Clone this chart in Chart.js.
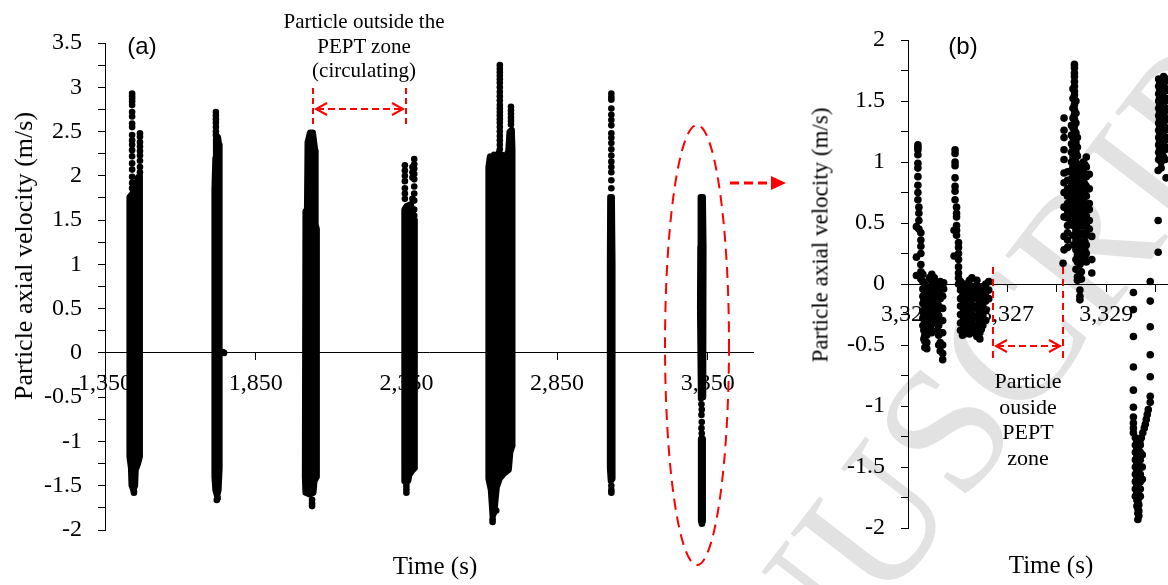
<!DOCTYPE html>
<html>
<head>
<meta charset="utf-8">
<title>Particle axial velocity</title>
<script src="https://cdn.jsdelivr.net/npm/chart.js"></script>
<style>
  html, body { margin: 0; padding: 0; background: #fff; }
  body { width: 1168px; height: 585px; overflow: hidden; position: relative; color: #000;
         font-family: "Liberation Serif", "Times New Roman", serif; }
  canvas { position: absolute; top: 0; z-index: 1; }
  #chartA { left: 0; }
  #chartB { left: 800px; }
  .txt { position: absolute; white-space: nowrap; line-height: 1; z-index: 2;
         transform: translate(-50%, -50%); }
  .vert { transform: translate(-50%, -50%) rotate(-90deg); }
  .tag { font-family: "Liberation Sans", Arial, sans-serif; font-size: 24px; }
  .note { font-size: 21px; text-align: center; line-height: 24.5px; }
  #mark { position: absolute; left: 578px; top: 815px; z-index: 0; line-height: 1;
          font-size: 180px; color: #e2e2e2; white-space: nowrap;
          transform-origin: 0 50%; transform: rotate(-52.4deg); }
  svg { position: absolute; left: 0; top: 0; z-index: 3; }
</style>
</head>
<body>
<div id="mark">MANUSCRIPT</div>
<canvas id="chartA" width="790" height="585"></canvas>
<canvas id="chartB" width="500" height="585"></canvas>

<div class="txt vert" style="left:24px;top:256px;font-size:26px">Particle axial velocity (m/s)</div>
<div class="txt" style="left:435px;top:565px;font-size:25px">Time (s)</div>
<div class="txt tag" style="left:142px;top:46px">(a)</div>
<div class="txt note" style="left:364px;top:46px">Particle outside the<br>PEPT zone<br>(circulating)</div>

<div class="txt vert" style="left:820px;top:235px;font-size:23px">Particle axial velocity (m/s)</div>
<div class="txt" style="left:1051px;top:564px;font-size:25px">Time (s)</div>
<div class="txt tag" style="left:963px;top:46px">(b)</div>
<div class="txt note" style="left:1028px;top:419px;font-size:22px;line-height:25.5px">Particle<br>ouside<br>PEPT<br>zone</div>

<svg width="1168" height="585">
  <g stroke="#ff0000" stroke-width="2" fill="none">
    <!-- circulation gap in (a) -->
    <line x1="313" y1="88" x2="313" y2="128" stroke-dasharray="6 4"/>
    <line x1="406" y1="88" x2="406" y2="128" stroke-dasharray="6 4"/>
    <line x1="317" y1="109" x2="402" y2="109" stroke-dasharray="7 4"/>
    <polyline points="327,103 316,109 327,115"/>
    <polyline points="392,103 403,109 392,115"/>
    <!-- last burst picked out for (b) -->
    <ellipse cx="697" cy="345" rx="32" ry="220" stroke-dasharray="11 7"/>
    <line x1="730" y1="183" x2="772" y2="183" stroke-width="3" stroke-dasharray="9 5"/>
    <!-- gap in (b) -->
    <line x1="993" y1="267" x2="993" y2="362" stroke-dasharray="7 5"/>
    <line x1="1063" y1="267" x2="1063" y2="362" stroke-dasharray="7 5"/>
    <line x1="997" y1="346" x2="1059" y2="346" stroke-dasharray="7 4"/>
    <polyline points="1007,340 996,346 1007,352"/>
    <polyline points="1049,340 1060,346 1049,352"/>
  </g>
  <polygon points="771,176 786,183 771,190" fill="#ff0000"/>
</svg>

<script>
// ---- panel (a): full run ----
const timeTicksA = [1350, 1850, 2350, 2850, 3350];
const velocityLabelsA = [-2, -1.5, -1, -0.5, 0, 0.5, 1, 1.5, 2, 2.5, 3, 3.5];

// solid part of each burst, outline as [time, velocity]
const burst1Band = [[1431, -1.17], [1431, 1.76], [1440, 1.80], [1452, 1.82], [1458, 1.98], [1464, 2.00], [1466, 1.90],
  [1466, -1.17], [1460, -1.25], [1452, -1.32], [1450, -1.50], [1444, -1.55], [1438, -1.50], [1436, -1.30]];
const burst2Band = [[1713, -1.40], [1713, 1.85], [1716, 2.20], [1718, 2.42], [1725, 2.44], [1729, 2.35], [1729, 1.30],
  [1731, 1.00], [1731, -1.30], [1727, -1.55], [1722, -1.62], [1716, -1.55]];
const burst3Band = [[2013, -1.40], [2015, 1.60], [2020, 1.62], [2022, 2.38], [2030, 2.49], [2040, 2.49], [2046, 2.33],
  [2048, 2.28], [2049, 1.45], [2053, 1.40], [2053, -1.40], [2045, -1.45], [2042, -1.58], [2030, -1.60], [2015, -1.58]];
const burst4Band = [[2343, -1.30], [2343, 1.62], [2350, 1.66], [2365, 1.68], [2376, 1.50], [2378, 1.45], [2378, -1.30],
  [2370, -1.33], [2360, -1.38], [2356, -1.45], [2345, -1.45]];
const burst5Band = [[2622, -1.42], [2622, 2.10], [2627, 2.22], [2633, 2.16], [2640, 2.24], [2648, 2.19], [2655, 2.26],
  [2662, 2.20], [2668, 2.24], [2675, 2.15], [2680, 2.22], [2688, 2.28], [2692, 2.50], [2700, 2.52], [2702, 2.30],
  [2702, -1.05], [2695, -1.12], [2690, -1.32], [2675, -1.36], [2660, -1.42], [2650, -1.52], [2642, -1.80],
  [2636, -1.85], [2630, -1.55]];
const burst6Band = [[3025, -1.30], [3025, 1.00], [3026, 1.76], [3032, 1.76], [3034, 1.00], [3034, -1.42], [3028, -1.45]];
const burst7Band = [[3324, 0.50], [3325, 1.20], [3326, 1.76], [3334, 1.76], [3336, 1.20], [3335, -0.50], [3327, -0.52]];
const burst7LowBand = [[3327, -0.97], [3334, -0.97], [3334, -1.90], [3327, -1.90]];

// loose points around the bands: [time, [velocities]]
const burst1Dots = [[1440, [2.93, 2.90, 2.87, 2.84, 2.80, 2.72, 2.67, 2.59, 2.55, 2.46, 2.40, 2.35, 2.29, 2.22, 2.14, 2.07, 1.99, 1.92, 1.86]],
  [1466, [2.48, 2.44, 2.38, 2.33, 2.28, 2.23, 2.17, 2.10, 2.04]], [1446, [-1.56, -1.58]]];
const burst2Dots = [[1718, [2.72, 2.68, 2.64, 2.60, 2.55, 2.50, 2.46]], [1721, [-1.66]], [1724, [-1.64]], [1740, [0.01]], [1745, [0.0]]];
const burst3Dots = [[2037, [-1.66, -1.70, -1.73]]];
const burst4Dots = [[2345, [2.12, 2.06, 2.00, 1.94, 1.86, 1.80, 1.74]], [2370, [2.10, 2.04, 1.98, 1.74]],
  [2376, [2.19, 2.13, 2.08, 2.02, 1.96, 1.88, 1.80, 1.72, 1.62, 1.55]], [2350, [-1.50, -1.54, -1.58]]];
const burst5Dots = [[2660, [3.25, 3.21, 3.17, 3.13, 3.09, 3.05, 3.00, 2.95, 2.90, 2.85, 2.80, 2.76, 2.72, 2.68, 2.64, 2.60, 2.55, 2.50, 2.45, 2.40, 2.35, 2.30]],
  [2697, [2.78, 2.74, 2.70, 2.66, 2.62, 2.58]], [2636, [-1.88, -1.91]], [2648, [-1.78]]];
const burst6Dots = [[3030, [2.93, 2.89, 2.86, 2.76, 2.69, 2.63, 2.57, 2.48, 2.43, 2.37, 2.30, 2.23, 2.16, 2.10, 2.04, 1.95, 1.86, -1.50, -1.55, -1.58]]];
const burst7Dots = [[3329, [-0.58, -0.70, -0.85]], [3330, [-0.64, -0.78, -0.91]], [3330.5, [-1.93]]];

// ---- panel (b): close-up of the last burst ----
const timeTicksB = [3325, 3326, 3327, 3328, 3329, 3330, 3331];
const timeLabelsB = [3325, 3327, 3329];
const velocityLabelsB = [-2, -1.5, -1, -0.5, 0, 0.5, 1, 1.5, 2];

const pass1 = [
  [3325.20, [1.14, 1.12, 1.10, 1.06, 0.99, 0.95, 0.88, 0.81, 0.75, 0.69]],
  [3325.22, [0.63, 0.58, 0.52, 0.45]],
  [3325.17, [0.47, 0.22, 0.07]],
  [3325.26, [0.42, 0.36, 0.31, 0.25, 0.16, 0.10, 0.04]],
  [3325.30, [0.08, 0.02, -0.04, -0.10, -0.16, -0.22, -0.28, -0.34]],
  [3325.32, [-0.05, -0.13, -0.25, -0.38, -0.45]],
  [3325.34, [0.00, -0.08, -0.15, -0.22, -0.30, -0.36, -0.42, -0.47, -0.52]],
  [3325.38, [-0.05, -0.12, -0.20, -0.28, -0.35, -0.42, -0.48, -0.53]],
  [3325.43, [0.05, -0.03, -0.10, -0.18, -0.25, -0.32, -0.38]],
  [3325.45, [-0.06, -0.14, -0.22, -0.30, -0.36]],
  [3325.48, [0.08, 0.02, -0.05, -0.12, -0.20, -0.27, -0.33, -0.40]],
  [3325.53, [0.05, -0.02, -0.08, -0.15, -0.22]],
  [3325.56, [-0.04, -0.12, -0.19, -0.27]],
  [3325.59, [0.00, -0.06, -0.14, -0.22, -0.30, -0.38]],
  [3325.62, [-0.02, -0.10, -0.18, -0.26, -0.34, -0.42, -0.50]],
  [3325.65, [0.02, -0.05, -0.12, -0.20, -0.30, -0.40, -0.48, -0.55]],
  [3325.70, [-0.10, -0.20, -0.30, -0.40, -0.50, -0.57, -0.62]],
  [3325.72, [0.01, -0.04]]
];
const pass2 = [
  [3325.95, [1.10, 1.07, 1.00, 0.97, 0.87, 0.80, 0.76, 0.69]],
  [3325.98, [0.63, 0.58, 0.55, 0.48, 0.44, 0.40]],
  [3325.93, [0.44, 0.23]],
  [3326.02, [0.34, 0.30, 0.25, 0.20, 0.14, 0.09, 0.05, 0.00]],
  [3326.06, [0.02, -0.05, -0.12, -0.18, -0.25, -0.32, -0.38]],
  [3326.10, [-0.02, -0.10, -0.18, -0.25, -0.32, -0.38, -0.42]],
  [3326.12, [-0.05, -0.13, -0.21, -0.29, -0.36]],
  [3326.14, [0.00, -0.08, -0.15, -0.22, -0.30, -0.36, -0.41]],
  [3326.19, [-0.05, -0.12, -0.20, -0.28, -0.35, -0.40]],
  [3326.21, [-0.01, -0.09, -0.17, -0.25, -0.33, -0.39]],
  [3326.24, [0.03, -0.04, -0.12, -0.20, -0.28, -0.36, -0.41]],
  [3326.27, [-0.07, -0.15, -0.23, -0.31, -0.37]],
  [3326.29, [0.05, -0.02, -0.10, -0.18, -0.25, -0.32, -0.38]],
  [3326.34, [-0.02, -0.10, -0.18, -0.26, -0.34, -0.40]],
  [3326.39, [0.03, -0.05, -0.12, -0.20, -0.28, -0.36, -0.43]],
  [3326.42, [-0.02, -0.10, -0.18, -0.26, -0.34, -0.41]],
  [3326.45, [-0.08, -0.16, -0.24, -0.32, -0.40, -0.45]],
  [3326.48, [-0.05, -0.13, -0.21, -0.29, -0.37]],
  [3326.51, [-0.02, -0.10, -0.18, -0.26, -0.34]],
  [3326.57, [0.00, -0.07, -0.14, -0.22, -0.30]],
  [3326.63, [0.02, -0.05, -0.12]]
];
const pass3 = [
  [3328.15, [1.36, 1.26, 1.20, 1.10, 1.02, 0.91, 0.83, 0.75, 0.63, 0.55, 0.39, 0.28]],
  [3328.13, [0.17]],
  [3328.22, [0.92, 0.85, 0.78, 0.72, 0.66, 0.60, 0.54, 0.48, 0.42, 0.36, 0.30]],
  [3328.30, [1.30, 1.22, 1.15, 1.08, 1.00, 0.93, 0.86, 0.80, 0.74, 0.68, 0.62, 0.56, 0.50]],
  [3328.33, [1.60, 1.52, 1.44, 1.36, 1.28, 1.20, 1.12, 1.04, 0.96, 0.88, 0.80, 0.72, 0.64, 0.56, 0.48, 0.40, 0.32]],
  [3328.36, [1.80, 1.77, 1.73, 1.70, 1.66, 1.62, 1.58, 1.55, 1.51, 1.47, 1.43, 1.39, 1.35, 1.30, 1.26, 1.22,
             1.18, 1.14, 1.10, 1.06, 1.02, 0.98, 0.94, 0.90]],
  [3328.39, [1.50, 1.40, 1.32, 1.24, 1.16, 1.08, 1.00, 0.92, 0.84, 0.76, 0.68, 0.60, 0.52, 0.44, 0.36, 0.28, 0.20, 0.12]],
  [3328.42, [1.20, 1.12, 1.05, 0.98, 0.90, 0.84, 0.78, 0.72, 0.66, 0.60, 0.54, 0.48, 0.42, 0.36, 0.30, 0.24,
             0.18, 0.12, 0.06, 0.03]],
  [3328.47, [0.95, 0.88, 0.80, 0.72, 0.64, 0.56, 0.48, 0.40, 0.32, 0.24, 0.16, 0.08, -0.05, -0.10, -0.13]],
  [3328.50, [0.90, 0.82, 0.74, 0.66, 0.58, 0.50, 0.42, 0.34, 0.26, 0.18, 0.10, 0.04]],
  [3328.54, [1.00, 0.92, 0.85, 0.78, 0.70, 0.62, 0.55, 0.48, 0.40, 0.33, 0.26, 0.20]],
  [3328.57, [0.98, 0.90, 0.82, 0.74, 0.66, 0.58, 0.50, 0.42, 0.35, 0.28, 0.22]],
  [3328.60, [1.04, 0.96, 0.88, 0.80, 0.72, 0.64, 0.56, 0.48, 0.40, 0.32, 0.25, 0.18]],
  [3328.66, [0.90, 0.78, 0.66, 0.61, 0.52, 0.45]],
  [3328.71, [0.39, 0.20, 0.09]]
];
const pass4 = [
  [3329.55, [-0.07, -0.21, -0.43, -0.68, -0.87, -1.01, -1.09, -1.14, -1.18, -1.22]],
  [3329.89, [0.02, -0.14, -0.35, -0.58, -0.76, -0.92, -0.97]],
  [3329.85, [-1.03]], [3329.83, [-1.07]], [3329.81, [-1.11]], [3329.79, [-1.15]],
  [3329.77, [-1.18]], [3329.74, [-1.22]], [3329.71, [-1.26]], [3329.68, [-1.29]],
  [3329.59, [-1.26, -1.32, -1.38, -1.44, -1.50, -1.56, -1.62, -1.68, -1.74]],
  [3329.62, [-1.29, -1.35, -1.41, -1.47, -1.53, -1.59, -1.65, -1.71, -1.77, -1.82]],
  [3329.64, [-1.30, -1.36, -1.42, -1.48, -1.54, -1.60, -1.66, -1.72, -1.78, -1.84, -1.88, -1.93]],
  [3329.66, [-1.33, -1.39, -1.45, -1.51, -1.57, -1.63, -1.69, -1.75, -1.81, -1.86, -1.90]],
  [3329.69, [-1.32, -1.38, -1.44, -1.50, -1.56, -1.62, -1.68, -1.74]],
  [3329.73, [-1.40, -1.50, -1.60]],
  [3330.05, [0.26, 0.52, 0.93]],
  [3330.06, [1.68, 1.62, 1.56, 1.50, 1.44, 1.38, 1.32, 1.26, 1.20, 1.14, 1.08, 1.02]],
  [3330.08, [1.65, 1.59, 1.53, 1.47, 1.41, 1.35, 1.29, 1.23, 1.17, 1.11, 1.05]],
  [3330.11, [1.66, 1.60, 1.54, 1.48, 1.42, 1.36, 1.30, 1.24, 1.18, 1.12, 1.06, 1.00, 0.95]],
  [3330.13, [1.68, 1.62, 1.56, 1.50, 1.44, 1.38, 1.32, 1.26, 1.20, 1.14, 1.08, 1.02]],
  [3330.16, [1.70, 1.64, 1.58, 1.52, 1.46, 1.40, 1.34, 1.28, 1.22, 1.16, 1.10, 1.04]],
  [3330.19, [1.66, 1.58, 1.50, 1.42, 1.34, 1.26, 1.18, 1.10, 1.02]],
  [3330.21, [1.68, 1.60, 1.52, 1.44, 1.36, 1.28, 1.20, 1.12, 0.87]]
];

// ---- helpers ----
const serif = '"Liberation Serif", "Times New Roman", serif';
const columnsToPoints = cols => cols.flatMap(([t, vs]) => vs.map(v => ({ x: t, y: v })));
const outlineToPoints = pts => pts.concat([pts[0]]).map(([x, y]) => ({ x, y }));

function dotSet(cols, radius) {
  return { type: 'scatter', data: columnsToPoints(cols), pointRadius: radius,
           backgroundColor: '#000', borderColor: '#000', borderWidth: 0 };
}
function bandSet(outline) {
  return { type: 'line', data: outlineToPoints(outline), showLine: true, fill: 'shape',
           backgroundColor: '#000', borderColor: '#000', borderWidth: 6, borderJoinStyle: 'round',
           borderCapStyle: 'round', pointRadius: 0, tension: 0 };
}

function yAxis(min, max, labels, width) {
  return {
    min, max,
    border: { color: '#000', width: 1 },
    grid: { drawOnChartArea: false, tickLength: 7, color: '#000' },
    ticks: { stepSize: 0.25, autoSkip: false, padding: 16, color: '#000', font: { family: serif, size: 24 },
             callback: v => labels.includes(v) ? String(v) : '' },
    afterFit: s => { s.width = width; }
  };
}
function xAxis(min, max, ticks, labels) {
  return {
    type: 'linear', min, max,
    position: { y: 0 },
    border: { color: '#000', width: 1 },
    grid: { drawOnChartArea: false, tickLength: 7, color: '#000' },
    ticks: { autoSkip: false, maxRotation: 0, padding: 9, color: '#000', font: { family: serif, size: 24 },
             callback: v => labels.includes(v) ? v.toLocaleString('en-US') : '' },
    afterBuildTicks: s => { s.ticks = ticks.map(value => ({ value })); }
  };
}

const common = {
  responsive: false,
  animation: false,
  events: [],
  plugins: { legend: { display: false }, tooltip: { enabled: false } }
};

// Panel (a)
new Chart(document.getElementById('chartA').getContext('2d'), {
  type: 'scatter',
  data: {
    datasets: [
      burst1Band, burst2Band, burst3Band, burst4Band, burst5Band, burst6Band, burst7Band, burst7LowBand
    ].map(bandSet).concat([
      burst1Dots, burst2Dots, burst3Dots, burst4Dots, burst5Dots, burst6Dots, burst7Dots
    ].map(c => dotSet(c, 3.3)))
  },
  options: Object.assign({}, common, {
    layout: { padding: { left: 0, right: 37, top: 43, bottom: 55 } },
    scales: {
      x: xAxis(1350, 3500, timeTicksA, timeTicksA),
      y: yAxis(-2, 3.5, velocityLabelsA, 105)
    }
  })
});

// Panel (b)
new Chart(document.getElementById('chartB').getContext('2d'), {
  type: 'scatter',
  data: { datasets: [pass1, pass2, pass3, pass4].map(c => dotSet(c, 3.8)) },
  options: Object.assign({}, common, {
    layout: { padding: { left: 0, right: 70, top: 40, bottom: 57 } },
    scales: {
      x: xAxis(3325, 3331.5, timeTicksB, timeLabelsB),
      y: yAxis(-2, 2, velocityLabelsB, 108)
    }
  })
});
</script>
</body>
</html>
